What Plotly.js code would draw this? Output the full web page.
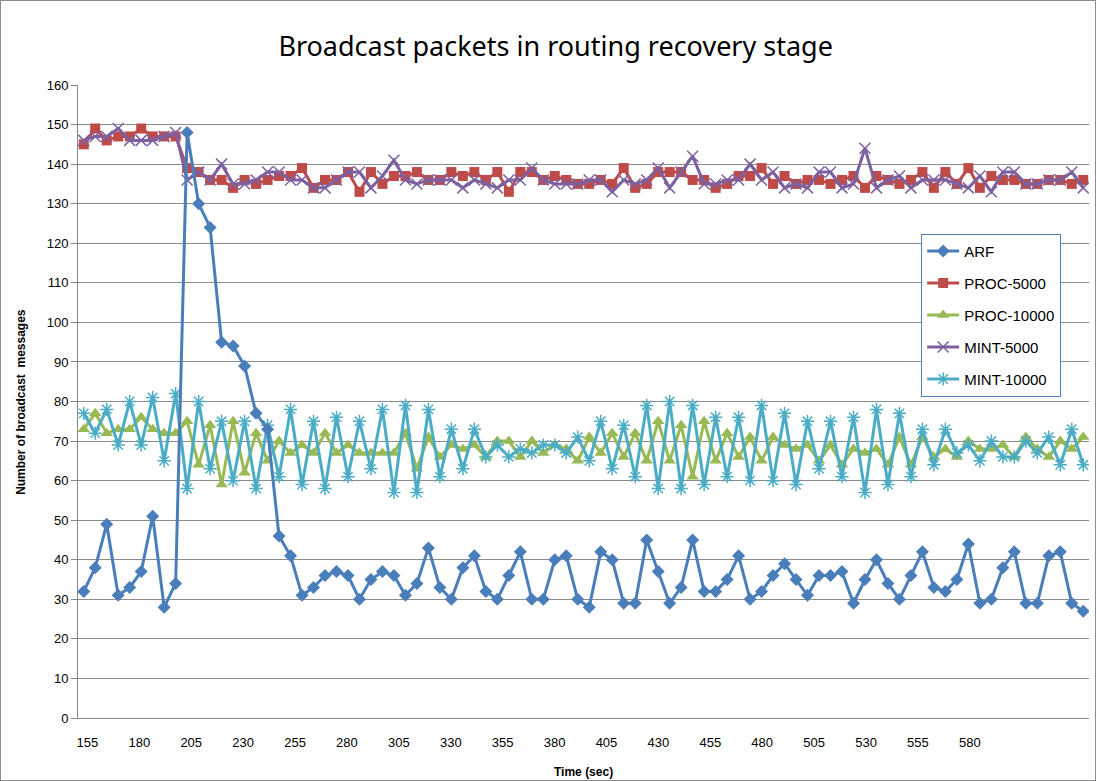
<!DOCTYPE html>
<html>
<head>
<meta charset="utf-8">
<script src="https://cdn.plot.ly/plotly-3.0.1.min.js"></script>
<style>
  html, body { margin: 0; padding: 0; background: #fff; }
  #chart { width: 1096px; height: 781px; }
  #frame { position: absolute; left: 0; top: 0; width: 1094px; height: 779px; border: 1px solid #8c8c8c; pointer-events: none; }
</style>
</head>
<body>
<div id="chart"></div>
<div id="frame"></div>
<script>
const times = [155,160,165,170,175,180,185,190,195,200,
  205,210,215,220,225,230,235,240,245,250,
  255,260,265,270,275,280,285,290,295,300,
  305,310,315,320,325,330,335,340,345,350,
  355,360,365,370,375,380,385,390,395,400,
  405,410,415,420,425,430,435,440,445,450,
  455,460,465,470,475,480,485,490,495,500,
  505,510,515,520,525,530,535,540,545,550,
  555,560,565,570,575,580,585,590];

const tickLabels = [155,180,205,230,255,280,305,330,355,380,405,430,455,480,505,530,555,580];

const arf = [32,38,49,31,33,37,51,28,34,148,
  130,124,95,94,89,77,73,46,41,31,
  33,36,37,36,30,35,37,36,31,34,
  43,33,30,38,41,32,30,36,42,30,
  30,40,41,30,28,42,40,29,29,45,
  37,29,33,45,32,32,35,41,30,32,
  36,39,35,31,36,36,37,29,35,40,
  34,30,36,42,33,32,35,44,29,30,
  38,42,29,29,41,42,29,27];

const proc5000 = [145,149,146,147,147,149,147,147,147,139,
  138,136,136,134,136,135,136,137,137,139,
  134,136,136,138,133,138,135,137,137,138,
  136,136,138,137,138,136,138,133,138,138,
  136,137,136,135,135,136,135,139,134,135,
  138,138,138,136,136,134,135,137,137,139,
  135,137,135,136,136,135,136,137,134,137,
  136,135,136,138,134,138,135,139,134,137,
  136,136,135,135,136,136,135,136];

const proc10000 = [73,77,72,73,73,76,73,72,72,75,
  64,74,59,75,62,72,65,70,67,69,
  67,72,67,69,67,67,67,67,72,63,
  71,66,69,68,69,66,70,70,66,70,
  67,69,68,65,71,67,72,66,72,65,
  75,65,74,61,75,65,72,66,71,65,
  71,69,68,69,65,69,64,68,67,68,
  64,71,64,71,66,68,66,70,68,68,
  69,66,71,68,66,70,68,71];

const mint5000 = [146,147,147,149,146,146,146,147,148,136,
  138,136,140,135,135,136,138,138,136,136,
  134,134,136,138,138,134,137,141,136,135,
  136,136,136,134,136,135,134,136,136,139,
  136,135,135,135,136,136,133,136,135,136,
  139,134,138,142,135,135,136,136,140,136,
  138,134,135,134,138,138,134,135,144,134,
  136,137,134,136,136,136,135,134,137,133,
  138,138,135,135,136,136,138,134];

const mint10000 = [77,72,78,69,80,69,81,65,82,58,
  80,63,75,60,75,58,74,61,78,59,
  75,58,76,61,75,63,78,57,79,57,
  78,61,73,63,73,66,69,66,68,67,
  69,69,67,71,65,75,63,74,61,79,
  58,80,58,79,59,76,61,76,60,79,
  60,77,59,75,63,75,61,76,57,78,
  59,77,61,73,64,73,67,69,65,70,
  66,66,70,67,71,64,73,64];

const seriesNames = ['ARF','PROC-5000','PROC-10000','MINT-5000','MINT-10000'];
const xs = times.map(String);

function tr(name, y, color, symbol, msize, rank, open) {
  const marker = { symbol: symbol, size: msize, color: color };
  if (open) marker.line = { color: color, width: 1.5 };
  return {
    type: 'scatter', mode: 'lines+markers', name: name, x: xs, y: y,
    line: { color: color, width: 3 }, marker: marker,
    legendrank: rank, legendgroup: name
  };
}

const data = [
  tr(seriesNames[1], proc5000, '#be4b48', 'square', 10, 2, false),
  tr(seriesNames[2], proc10000, '#98b954', 'triangle-up', 11, 3, false),
  tr(seriesNames[3], mint5000, '#7d60a0', 'x-thin', 11, 4, true),
  tr(seriesNames[4], mint10000, '#4bacc6', 'asterisk', 11, 5, true),
  tr(seriesNames[0], arf, '#4a7ebb', 'diamond', 10, 1, false),
  { type: 'scatter', x: [], y: [], xaxis: 'x2', yaxis: 'y', showlegend: false, hoverinfo: 'skip' }
];

// label slots as drawn in the original (one label every ~4.52 category widths)
const labelStart = 0.32, labelStep = 4.518;

const font = 'Liberation Sans, Arial, sans-serif';
const layout = {
  width: 1096, height: 781,
  margin: { l: 78, r: 7, t: 85, b: 63 },
  paper_bgcolor: '#ffffff', plot_bgcolor: '#ffffff',
  font: { family: font, size: 13, color: '#000' },
  title: { text: 'Broadcast packets in routing recovery stage', x: 0.507, xanchor: 'center', y: 0.94, yanchor: 'middle',
           font: { family: 'Noto Sans, sans-serif', size: 27, color: '#000' } },
  xaxis: {
    type: 'category', range: [-0.5, 87.5],
    showticklabels: false, ticks: '',
    showgrid: false, showline: true, linecolor: '#868686', linewidth: 1, zeroline: false
  },
  xaxis2: {
    type: 'linear', overlaying: 'x', anchor: 'y', side: 'bottom', range: [-0.5, 87.5],
    tickmode: 'array',
    tickvals: tickLabels.map((_, k) => labelStart + k * labelStep),
    ticktext: tickLabels.map(String),
    showgrid: false, showline: false, zeroline: false, ticks: '',
    ticklabelstandoff: 15,
    tickfont: { family: font, size: 13, color: '#000' }
  },
  yaxis: {
    range: [0, 160], dtick: 10, tick0: 0,
    showgrid: true, gridcolor: '#8c8c8c', gridwidth: 1,
    showline: true, linecolor: '#868686', linewidth: 1,
    ticks: 'outside', ticklen: 6, tickcolor: '#868686',
    tickfont: { family: font, size: 13, color: '#000' }, zeroline: false
  },
  legend: {
    x: 0.834, y: 0.765, xanchor: 'left', yanchor: 'top',
    bgcolor: '#ffffff', bordercolor: '#4f81bd', borderwidth: 1,
    font: { family: font, size: 15, color: '#000' },
    tracegroupgap: 9.5, itemwidth: 32
  },
  annotations: [
    { text: '<b>Number of broadcast  messages</b>', xref: 'paper', yref: 'paper',
      x: -0.057, y: 0.5, textangle: -90, showarrow: false, xanchor: 'center', yanchor: 'middle',
      font: { family: font, size: 12, color: '#000' } },
    { text: '<b>Time (sec)</b>', xref: 'paper', yref: 'paper',
      x: 0.5, y: -0.085, showarrow: false, xanchor: 'center', yanchor: 'middle',
      font: { family: font, size: 12, color: '#000' } }
  ],
  showlegend: true
};

Plotly.newPlot('chart', data, layout, { displayModeBar: false, staticPlot: true });
</script>
</body>
</html>
